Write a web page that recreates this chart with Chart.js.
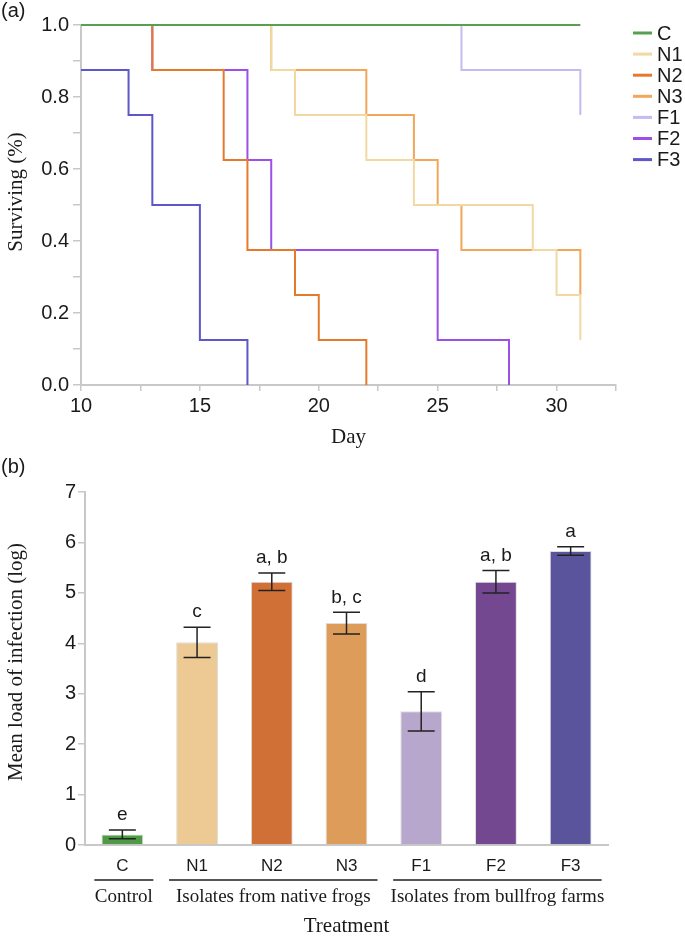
<!DOCTYPE html>
<html>
<head>
<meta charset="utf-8">
<script src="https://cdn.jsdelivr.net/npm/chart.js@4.4.0/dist/chart.umd.min.js"></script>
<style>
  html, body { margin: 0; padding: 0; background: #fff; }
  #wrap { position: relative; width: 685px; height: 936px; }
  #survival { position: absolute; left: 0; top: 0; }
  #load { position: absolute; left: 0; top: 455px; }
</style>
</head>
<body>
<div id="wrap">
  <canvas id="survival" width="685" height="455"></canvas>
  <canvas id="load" width="685" height="481"></canvas>
</div>
<script>
// treatments (same order in both panels)
const treatments = ['C', 'N1', 'N2', 'N3', 'F1', 'F2', 'F3']

// (a) survival curves: day of each step and surviving fraction after it
const dayC = [10, 31]
const survC = [1, 1]
const dayN1 = [10, 18, 19, 22, 24, 29, 30, 31]
const survN1 = [1, 0.875, 0.75, 0.625, 0.5, 0.375, 0.25, 0.125]
const dayN2 = [10, 13, 16, 17, 19, 20, 22]
const survN2 = [1, 0.875, 0.625, 0.375, 0.25, 0.125, 0]
const dayN3 = [10, 18, 22, 24, 25, 26, 31]
const survN3 = [1, 0.875, 0.75, 0.625, 0.5, 0.375, 0.25]
const dayF1 = [10, 26, 31]
const survF1 = [1, 0.875, 0.75]
const dayF2 = [10, 13, 17, 18, 25, 28]
const survF2 = [1, 0.875, 0.625, 0.375, 0.125, 0]
const dayF3 = [10, 12, 13, 15, 17]
const survF3 = [0.875, 0.75, 0.5, 0.125, 0]

// (b) mean load of infection
const meanLoad = [0.21, 4.02, 5.22, 4.40, 2.65, 5.22, 5.83]
const loadError = [0.085, 0.30, 0.175, 0.215, 0.39, 0.225, 0.085]
const letters = ['e', 'c', 'a, b', 'b, c', 'd', 'a, b', 'a']
const groupNames = ['Control', 'Isolates from native frogs', 'Isolates from bullfrog farms']
const groupFirst = [0, 1, 4]
const groupLast = [0, 3, 6]

const lineColors = ['#56a04f', '#f2d9a2', '#e57a2c', '#f1a65a', '#c6baf0', '#9c50e8', '#5d57c8']
const barColors = ['#4f9a47', '#edc994', '#d07036', '#dd9c5a', '#b7a7cd', '#744891', '#5a549c']

const SANS = "'Liberation Sans', Arial, sans-serif"
const SERIF = "'Liberation Serif', 'Times New Roman', serif"
const AXIS = '#c8c8c8'
const TEXT = '#1a1a1a'

const dayLists = [dayC, dayN1, dayN2, dayN3, dayF1, dayF2, dayF3]
const survLists = [survC, survN1, survN2, survN3, survF1, survF2, survF3]

// rotated y title at a fixed spot (centre of the text)
const sideTitle = {
  id: 'sideTitle',
  afterDraw(chart, args, opts) {
    const ctx = chart.ctx
    ctx.save()
    ctx.font = opts.font
    ctx.fillStyle = TEXT
    ctx.translate(opts.x, opts.y)
    ctx.rotate(-Math.PI / 2)
    ctx.textAlign = 'center'
    ctx.textBaseline = 'middle'
    ctx.fillText(opts.text, 0, 0)
    ctx.restore()
  }
}

// panel letter (a) / (b)
const panelTag = {
  id: 'panelTag',
  afterDraw(chart, args, opts) {
    const ctx = chart.ctx
    ctx.save()
    ctx.font = '20px ' + SANS
    ctx.fillStyle = TEXT
    ctx.textBaseline = 'middle'
    ctx.fillText(opts.text, 1, opts.y)
    ctx.restore()
  }
}

const lineLegend = {
  id: 'lineLegend',
  afterDraw(chart) {
    const ctx = chart.ctx
    ctx.save()
    ctx.font = '20px ' + SANS
    ctx.textBaseline = 'middle'
    chart.data.datasets.forEach((ds, i) => {
      const y = 33 + i * 21.1
      ctx.strokeStyle = ds.borderColor
      ctx.lineWidth = 3
      ctx.beginPath()
      ctx.moveTo(633, y)
      ctx.lineTo(652, y)
      ctx.stroke()
      ctx.fillStyle = TEXT
      ctx.fillText(ds.label, 657, y + 1)
    })
    ctx.restore()
  }
}

new Chart(document.getElementById('survival'), {
  type: 'line',
  data: {
    datasets: treatments.map((t, i) => ({
      label: t,
      data: dayLists[i].map((d, j) => ({ x: d, y: survLists[i][j] })),
      borderColor: lineColors[i],
      borderWidth: 2,
      stepped: 'before',
      pointRadius: 0,
      fill: false,
      clip: 4,
    })),
  },
  options: {
    responsive: false,
    animation: false,
    layout: { padding: { top: 25, right: 69, bottom: 5, left: 0 } },
    plugins: {
      legend: { display: false },
      tooltip: { enabled: false },
      sideTitle: { text: 'Surviving (%)', x: 16, y: 192, font: '21px ' + SERIF },
      panelTag: { text: '(a)', y: 11 },
    },
    scales: {
      x: {
        type: 'linear',
        min: 10,
        max: 32.5,
        ticks: {
          stepSize: 2.5,
          autoSkip: false,
          maxRotation: 0,
          padding: 3,
          color: TEXT,
          font: { family: SANS, size: 20 },
          callback: v => (v % 5 === 0 ? String(v) : ''),
        },
        grid: { drawOnChartArea: false, tickLength: 6, color: AXIS, lineWidth: 1.5 },
        border: { color: AXIS, width: 2 },
        title: { display: true, text: 'Day', color: TEXT, font: { family: SERIF, size: 21 }, padding: 0 },
        afterFit: s => { s.height = 65 },
      },
      y: {
        min: 0,
        max: 1,
        ticks: {
          stepSize: 0.1,
          autoSkip: false,
          padding: 4,
          color: TEXT,
          font: { family: SANS, size: 20 },
          callback: v => {
            const k = Math.round(v * 10)
            return k % 2 === 0 ? (k / 10).toFixed(1) : ''
          },
        },
        grid: { drawOnChartArea: false, tickLength: 8, color: AXIS, lineWidth: 1.5 },
        border: { color: AXIS, width: 2 },
        afterFit: s => { s.width = 81 },
      },
    },
  },
  plugins: [lineLegend, sideTitle, panelTag],
})

// error bars + significance letters
const errorBars = {
  id: 'errorBars',
  afterDatasetsDraw(chart) {
    const { ctx } = chart
    const y = chart.scales.y
    const meta = chart.getDatasetMeta(0)
    ctx.save()
    ctx.strokeStyle = '#222'
    ctx.lineWidth = 1.5
    ctx.fillStyle = TEXT
    ctx.font = '19px ' + SANS
    ctx.textAlign = 'center'
    ctx.textBaseline = 'middle'
    meta.data.forEach((bar, i) => {
      const top = y.getPixelForValue(meanLoad[i] + loadError[i])
      const bot = y.getPixelForValue(meanLoad[i] - loadError[i])
      ctx.beginPath()
      ctx.moveTo(bar.x, top)
      ctx.lineTo(bar.x, bot)
      ctx.moveTo(bar.x - 13.5, top)
      ctx.lineTo(bar.x + 13.5, top)
      ctx.moveTo(bar.x - 13.5, bot)
      ctx.lineTo(bar.x + 13.5, bot)
      ctx.stroke()
      ctx.fillText(letters[i], bar.x, top - 15)
    })
    ctx.restore()
  }
}

// group brackets under the category labels
const groupBrackets = {
  id: 'groupBrackets',
  afterDraw(chart) {
    const { ctx } = chart
    const x = chart.scales.x
    ctx.save()
    ctx.strokeStyle = '#555'
    ctx.lineWidth = 2
    ctx.fillStyle = TEXT
    ctx.font = '19px ' + SERIF
    ctx.textAlign = 'center'
    ctx.textBaseline = 'middle'
    groupNames.forEach((name, g) => {
      const x1 = x.getPixelForValue(groupFirst[g]) - 28
      const x2 = x.getPixelForValue(groupLast[g]) + 31
      ctx.beginPath()
      ctx.moveTo(x1, 425)
      ctx.lineTo(x2, 425)
      ctx.stroke()
      ctx.fillText(name, (x1 + x2) / 2, 442)
    })
    ctx.restore()
  }
}

new Chart(document.getElementById('load'), {
  type: 'bar',
  data: {
    labels: treatments,
    datasets: [{
      data: meanLoad,
      backgroundColor: barColors,
      borderColor: '#dedede',
      borderWidth: 1,
      categoryPercentage: 1,
      barPercentage: 0.56,
    }],
  },
  options: {
    responsive: false,
    animation: false,
    layout: { padding: { top: 37, right: 77, bottom: 0, left: 0 } },
    plugins: {
      legend: { display: false },
      tooltip: { enabled: false },
      sideTitle: { text: 'Mean load of infection (log)', x: 16, y: 207, font: '21px ' + SERIF },
      panelTag: { text: '(b)', y: 12 },
    },
    scales: {
      x: {
        ticks: { padding: 3, color: TEXT, font: { family: SANS, size: 17 } },
        grid: { display: false },
        border: { color: AXIS, width: 2 },
        title: { display: true, text: 'Treatment', color: TEXT, font: { family: SERIF, size: 21 }, padding: { top: 0, bottom: -3 } },
        afterFit: s => { s.height = 91 },
      },
      y: {
        min: 0,
        max: 7,
        ticks: { stepSize: 1, padding: 2, color: TEXT, font: { family: SANS, size: 20 } },
        grid: { drawOnChartArea: false, tickLength: 7, color: AXIS, lineWidth: 1.5 },
        border: { color: AXIS, width: 2 },
        afterFit: s => { s.width = 85 },
      },
    },
  },
  plugins: [errorBars, groupBrackets, sideTitle, panelTag],
})
</script>
</body>
</html>
